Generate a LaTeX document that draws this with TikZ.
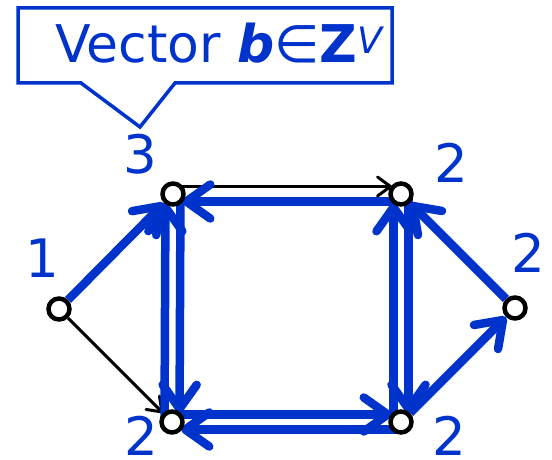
\documentclass[tikz,border=0pt]{standalone}
\usepackage{fontspec}
\setmainfont{DejaVu Sans}
\usetikzlibrary{arrows.meta,backgrounds,calc}
\definecolor{vblue}{HTML}{0033CC}
\newcommand\dedge[3]{\draw[#1,shorten >=9pt] ($(#2)!7.5pt!90:(#3)$) -- ($(#3)!7.5pt!-90:(#2)$);}
\begin{document}
\begin{tikzpicture}[x=1pt,y=-1pt,
  vert/.style={circle,draw=black,line width=4.5pt,fill=white,minimum size=21pt,inner sep=0pt},
  bluearc/.style={draw=vblue,line width=8.5pt,-{Straight Barb[length=24pt,width=34pt,round]}},
  blackarc/.style={draw=black,line width=3pt,-{Straight Barb[length=13pt,width=19pt,round]}},
  num/.style={text=vblue,font=\fontsize{53}{53}\selectfont,inner sep=0pt},
  callout/.style={draw=vblue,line width=3.5pt,fill=white,line join=miter},
]
\useasboundingbox (0,0) rectangle (552,460);
% callout
\draw[callout] (18,8) -- (392,8) -- (392,83) -- (175,83) -- (140,127) -- (81,83) -- (18,83) -- cycle;
\node[anchor=base west,text=vblue,font=\fontsize{52}{52}\selectfont,inner sep=0pt] (title) at (55,63)
  {Vector \textbf{\textit{b}}∈\textbf{Z}\textsuperscript{\textit{V}}};
% vertices
\node[vert] (v1) at (59,309) {};
\node[vert] (v2) at (173,194) {};
\node[vert] (v3) at (401,194) {};
\node[vert] (v4) at (515,308) {};
\node[vert] (v5) at (172,422) {};
\node[vert] (v6) at (401,422) {};
% labels
\node[num] (l2) at (140,154) {3};
\node[num] (l1) at (42,258) {1};
\node[num] (l3) at (451,163) {2};
\node[num] (l4) at (528,253) {2};
\node[num] (l5) at (141,436) {2};
\node[num] (l6) at (449,436) {2};
% edges
\begin{scope}[on background layer]
\draw[bluearc] (v1) -- (v2);
\draw[blackarc] (v1) -- (v5);
\draw[bluearc] (v6) -- (v4);
\draw[bluearc] (v4) -- (v3);
\dedge{bluearc}{v5}{v2}
\dedge{bluearc}{v2}{v5}
\dedge{bluearc}{v5}{v6}
\dedge{bluearc}{v6}{v5}
\dedge{bluearc}{v6}{v3}
\dedge{bluearc}{v3}{v6}
\dedge{blackarc}{v2}{v3}
\dedge{bluearc}{v3}{v2}
\end{scope}
\end{tikzpicture}
\end{document}
